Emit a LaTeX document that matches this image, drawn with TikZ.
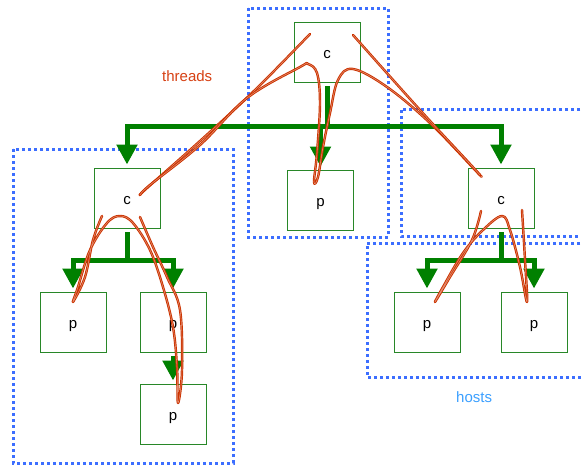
\documentclass[tikz,border=0pt]{standalone}
\usepackage{fontspec}
\setmainfont{Liberation Sans}
\usetikzlibrary{arrows.meta}
\definecolor{boxgreen}{RGB}{40,135,40}
\definecolor{arrgreen}{RGB}{0,128,0}
\definecolor{hostblue}{RGB}{60,110,255}
\definecolor{threadred}{RGB}{204,51,0}
\definecolor{hosttext}{RGB}{60,160,255}
\definecolor{threadtext}{RGB}{215,65,20}
\tikzset{
  proc/.style={draw=boxgreen, line width=0.9pt, minimum width=66pt, minimum height=60pt,
    inner sep=0pt, text height=14pt, text depth=2pt, font=\fontsize{15}{15}\selectfont},
  hostbox/.style={draw=hostblue, line width=3pt, dash pattern=on 3pt off 3pt},
  flow/.style={draw=arrgreen, line width=5pt, line join=miter,
    -{Triangle[width=20pt,length=20pt]}, shorten <=4pt, shorten >=3pt},
  thr/.style={draw=threadred, line width=0.95pt, double=threadred!55!white,
    double distance=0.55pt, line cap=round, line join=round},
  lbl/.style={anchor=base west, inner sep=0pt, font=\fontsize{15}{15}\selectfont}
}
\begin{document}
\begin{tikzpicture}[x=1pt,y=-1pt]
\useasboundingbox (0,0) rectangle (581,466);
\fill[white] (0,0) rectangle (581,466);

% host boxes (dotted)
\draw[hostbox] (248,8) rectangle (388,237);
\draw[hostbox] (13,149) rectangle (233,463);
\draw[hostbox] (586,109) -- (401,109) -- (401,236) -- (586,236);
\draw[hostbox] (586,243) -- (367,243) -- (367,377) -- (586,377);

% processes
\node[proc] (C0) at (327,52) {c};
\node[proc] (P0) at (320.5,200) {p};
\node[proc] (C1) at (127,198) {c};
\node[proc] (C2) at (501,198) {c};
\node[proc] (P11) at (73,322) {p};
\node[proc] (P12) at (173,322) {p};
\node[proc] (P13) at (173,414) {p};
\node[proc] (P21) at (427,322) {p};
\node[proc] (P22) at (534,322) {p};

% spawn connectors
\coordinate (b0) at (327,126);
\coordinate (b1) at (127,260);
\coordinate (b2) at (501,260);
\draw[flow] (C0.south) -- (b0) -| (C1.north);
\draw[flow] (C0.south) -- (b0) -| (P0.north);
\draw[flow] (C0.south) -- (b0) -| (C2.north);
\draw[flow] (C1.south) -- (b1) -| (P11.north);
\draw[flow] (C1.south) -- (b1) -| (P12.north);
\draw[flow] (P12.south) -- (P13.north);
\draw[flow] (C2.south) -- (b2) -| (P21.north);
\draw[flow] (C2.south) -- (b2) -| (P22.north);

% threads (hand drawn)
\draw[thr] plot[smooth, tension=0.6] coordinates {(140,195) (147,188) (200,141) (255,90) (310,34)};
\draw[thr] plot[smooth, tension=0.6] coordinates {(140,195) (150,185) (200,145) (247,98) (300,67) (308,64) (317,73) (320,103) (317,153) (314,182) (318,177) (323,147) (330,113) (338,80) (353,69) (387,87) (430,123) (477,172) (480,175)};
\draw[thr] plot[smooth, tension=0.6] coordinates {(480,175) (470,164) (420,110) (353,35)};
% left c threads
\draw[thr] plot[smooth, tension=0.6] coordinates {(102,216) (93,240) (85,277) (73,302) (78,287) (90,250) (107,223) (120,216) (133,223) (150,250) (163,287) (173,327) (177,367) (178,403) (182,370) (180,310) (167,277) (153,247) (140,217)};
% right c threads
\draw[thr] plot[smooth, tension=0.6] coordinates {(481,211) (472,240) (450,277) (435,302) (443,287) (463,253) (483,230) (502,216) (510,230) (520,267) (527,302) (525,260) (522,210)};

% labels
\node[lbl, text=threadtext] (tl) at (162,81) {threads};
\node[lbl, text=hosttext] (hl) at (456,402) {hosts};
\end{tikzpicture}
\end{document}
